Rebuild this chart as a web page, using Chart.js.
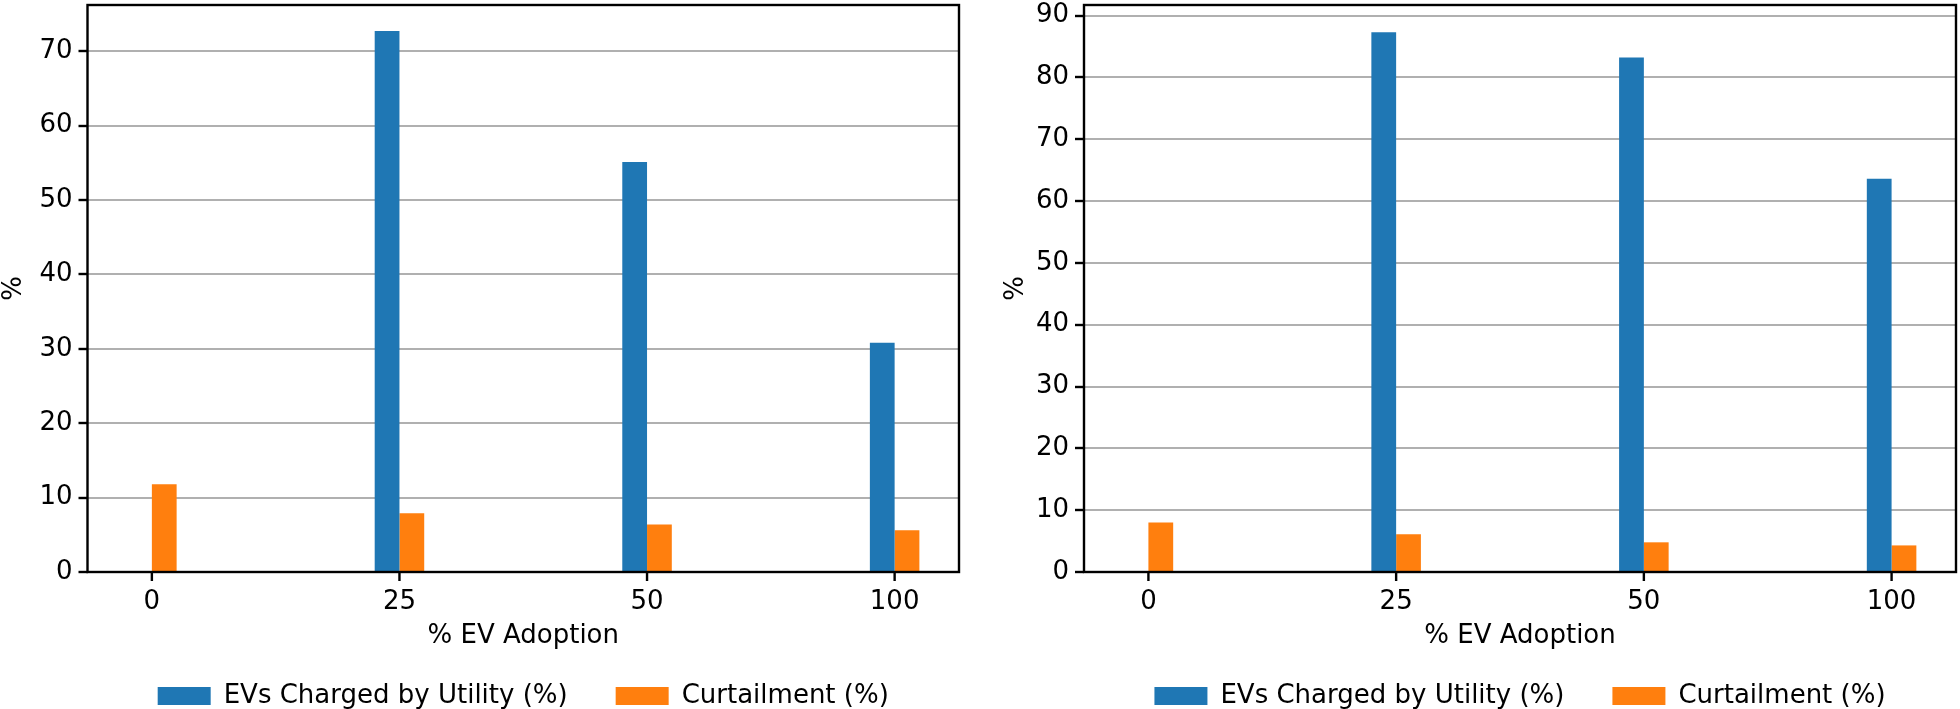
<!DOCTYPE html>
<html>
<head>
<meta charset="utf-8">
<script src="https://cdn.jsdelivr.net/npm/chart.js@4.4.1/dist/chart.umd.min.js"></script>
<style>
  html, body { margin: 0; padding: 0; background: #fff; }
  #wrap { position: relative; width: 1960px; height: 709px; }
  .panel { position: absolute; top: 0; width: 980px; height: 709px; }
</style>
</head>
<body>
<div id="wrap">
  <div class="panel" style="left:0"><canvas id="chartLeft"></canvas></div>
  <div class="panel" style="left:980px"><canvas id="chartRight"></canvas></div>
</div>
<script>
// values
const adoptionLabels = ['0', '25', '50', '100'];
const evChargedLeft = [0, 72.7, 55.1, 30.8];
const curtailmentLeft = [11.8, 7.9, 6.4, 5.6];
const evChargedRight = [0, 87.3, 83.2, 63.6];
const curtailmentRight = [8.0, 6.1, 4.8, 4.3];
const yMaxLeft = 76.2;
const yMaxRight = 91.7;

Chart.defaults.font.family = 'DejaVu Sans';
Chart.defaults.color = '#000';

// matplotlib style box round the axes, plus the x tick marks under it
const frame = {
    id: 'frame',
    afterDatasetsDraw(chart) {
        const {ctx, chartArea} = chart;
        const x = chart.scales.x;
        ctx.save();
        ctx.strokeStyle = '#000';
        ctx.lineWidth = 2.4;
        ctx.strokeRect(chartArea.left, chartArea.top, chartArea.right - chartArea.left, chartArea.bottom - chartArea.top);
        x.ticks.forEach((t, i) => {
            const px = x.getPixelForTick(i);
            ctx.beginPath();
            ctx.moveTo(px, chartArea.bottom);
            ctx.lineTo(px, chartArea.bottom + 9);
            ctx.stroke();
        });
        ctx.restore();
    }
};

function createChart(id, evCharged, curtailment, yMax, side) {
    const ctx = document.getElementById(id).getContext('2d');
    return new Chart(ctx, {
        type: 'bar',
        data: {
            datasets: [
                {
                    label: 'EVs Charged by Utility (%)',
                    backgroundColor: '#1f77b4',
                    borderWidth: 0,
                    categoryPercentage: 0.2,
                    barPercentage: 1,
                    data: evCharged.map((v, i) => ({x: i, y: v}))
                }, {
                    label: 'Curtailment (%)',
                    backgroundColor: '#ff7f0e',
                    borderWidth: 0,
                    categoryPercentage: 0.2,
                    barPercentage: 1,
                    data: curtailment.map((v, i) => ({x: i, y: v}))
                }
            ]
        },
        options: {
            responsive: true,
            maintainAspectRatio: false,
            animation: false,
            layout: {padding: {left: side.left, right: side.right, top: 5, bottom: 0}},
            plugins: {
                tooltip: {enabled: false},
                legend: {
                    position: 'bottom',
                    fullSize: false,
                    maxHeight: 74,
                    labels: {boxWidth: 53, boxHeight: 18, padding: 48, font: {size: 26}}
                }
            },
            scales: {
                x: {
                    type: 'linear',
                    min: -0.26,
                    max: 3.26,
                    offset: false,
                    grid: {offset: false, drawOnChartArea: false, drawTicks: false, tickLength: 9},
                    border: {display: false},
                    ticks: {
                        stepSize: 1,
                        includeBounds: false,
                        padding: 15,
                        font: {size: 26},
                        callback: v => adoptionLabels[v]
                    },
                    title: {
                        display: true,
                        text: '% EV Adoption',
                        font: {size: 26, lineHeight: 1},
                        padding: {top: 0, bottom: -14}
                    },
                    afterFit(scale) {
                        scale.height = 63;
                        scale.paddingLeft = 0;
                        scale.paddingRight = 0;
                    }
                },
                y: {
                    min: 0,
                    max: yMax,
                    grid: {color: '#b0b0b0', lineWidth: 2, tickLength: 9, tickColor: '#000', tickWidth: 2.4},
                    border: {display: false},
                    ticks: {stepSize: 10, includeBounds: false, padding: 6, font: {size: 26}},
                    title: {
                        display: true,
                        text: '%',
                        font: {size: 26, lineHeight: 1},
                        padding: {top: 1, bottom: 0}
                    },
                    afterFit(scale) {
                        scale.width = side.axis;
                        scale.paddingTop = 0;
                        scale.paddingBottom = 0;
                    }
                }
            }
        },
        plugins: [frame]
    });
}

createChart('chartLeft', evChargedLeft, curtailmentLeft, yMaxLeft, {left: 0, right: 21, axis: 87.5});
createChart('chartRight', evChargedRight, curtailmentRight, yMaxRight, {left: 22, right: 4, axis: 82});
</script>
</body>
</html>
